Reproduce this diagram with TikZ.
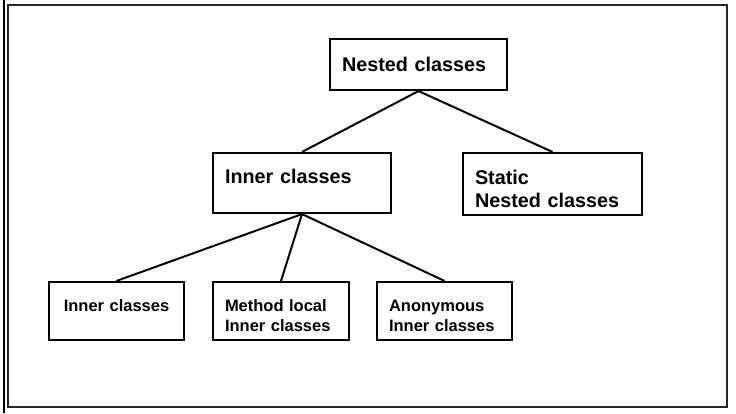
\documentclass[tikz,border=0pt]{standalone}
\usepackage{fontspec}
\setmainfont{Liberation Sans}

\begin{document}
\begin{tikzpicture}[x=1pt, y=-1pt,
    bigbox/.style={draw, line width=0.75mm, align=left, inner xsep=12pt,
      font=\fontsize{19.8}{23}\selectfont\bfseries},
    smallbox/.style={draw, line width=0.75mm, align=left, inner xsep=12pt,
      font=\fontsize{16.5}{20}\selectfont\bfseries,
      text height=20pt, text depth=20pt, minimum height=58pt},
    link/.style={line width=0.7mm}]
  \useasboundingbox (0,0) rectangle (736,413);

  % Frame
  \draw[line width=0.5mm] (4,0) -- (4,413);
  \draw[line width=0.75mm, black!85] (8,5) rectangle (727,407);

  % Top level
  \node[bigbox, text width=153pt, minimum height=51pt] (nested) at (418.5,64.5)
    {Nested classes};

  % Second level
  \node[bigbox, text width=154pt, minimum height=60pt,
        text height=23pt, text depth=23pt] (inner) at (302,183)
    {Inner classes};
  \node[bigbox, text width=155pt, minimum height=62pt,
        text height=23pt, text depth=23pt] (static) at (552.5,184)
    {Static\\Nested classes};

  % Third level
  \node[smallbox, text width=111pt, align=center] (inner-plain) at (116.5,311)
    {Inner classes};
  \node[smallbox, text width=112pt] (method-local) at (281,311)
    {Method local\\Inner classes};
  \node[smallbox, text width=111pt] (anonymous) at (444.5,311)
    {Anonymous\\Inner classes};

  % Links
  \draw[link] (nested.south) -- (inner.north);
  \draw[link] (nested.south) -- (static.north);
  \draw[link] (inner.south) -- (inner-plain.north);
  \draw[link] (inner.south) -- (method-local.north);
  \draw[link] (inner.south) -- (anonymous.north);
\end{tikzpicture}
\end{document}
